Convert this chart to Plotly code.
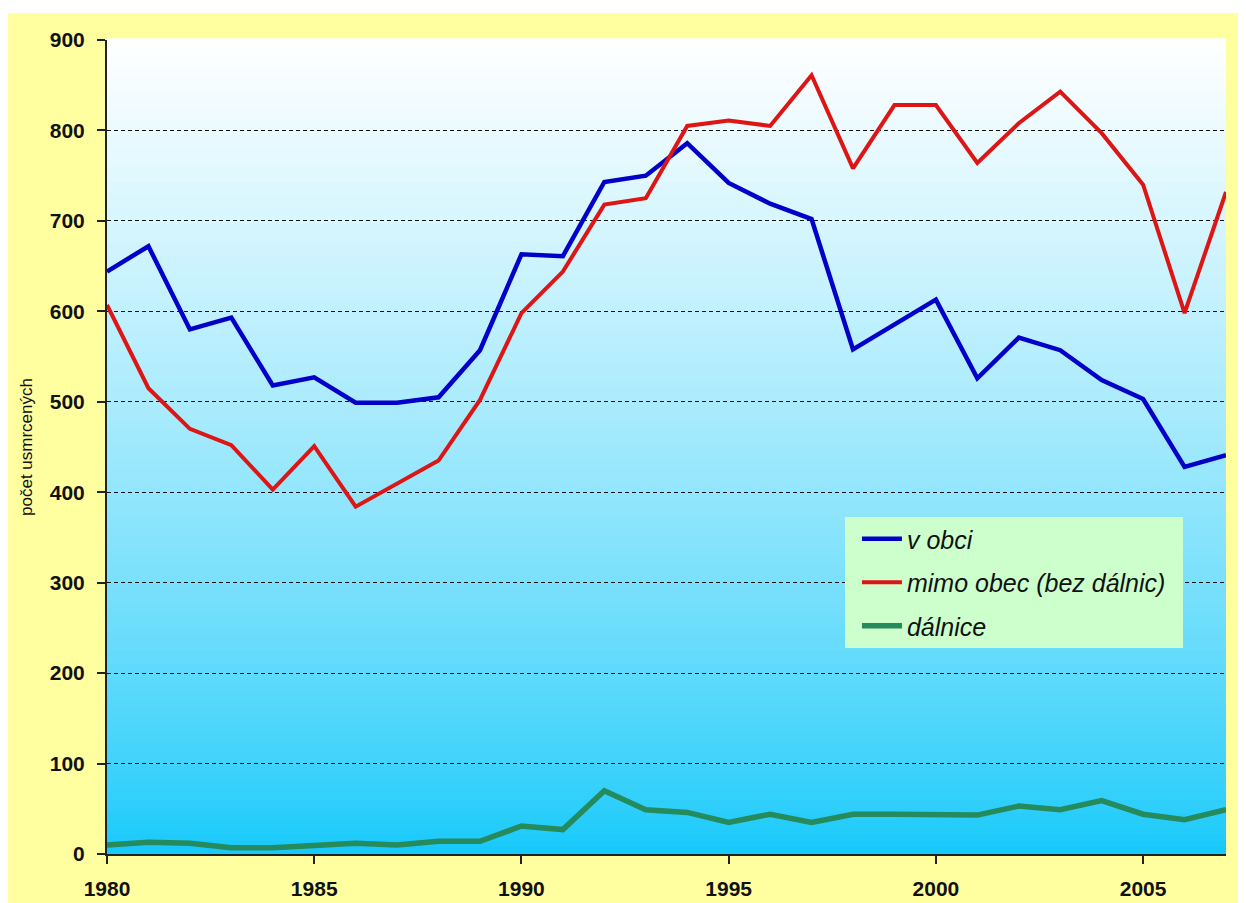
import plotly.graph_objects as go

years = list(range(1980, 2008))
v_obci = [644, 672, 580, 593, 518, 527, 499, 499, 505, 557, 663, 661, 743, 750, 786, 742,
          719, 702, 558, 585, 613, 526, 571, 557, 524, 503, 428, 441]
mimo_obec = [607, 515, 470, 452, 403, 451, 384, 410, 435, 502, 598, 644, 718, 725, 805, 811,
             805, 861, 758, 828, 828, 764, 808, 843, 797, 740, 598, 732]
dalnice = [10, 13, 12, 7, 7, 9, 12, 10, 14, 14, 31, 27, 70, 49, 46, 35,
           44, 35, 44, 44, 44, 43, 53, 49, 59, 44, 38, 49]

y_ticks = list(range(0, 1000, 100))
x_ticks = [1980, 1985, 1990, 1995, 2000, 2005]

FONT = "Liberation Sans, Arial, sans-serif"

fig = go.Figure()
fig.add_trace(go.Scatter(x=years, y=v_obci, mode="lines", name="v obci",
                         line=dict(color="#0000C8", width=4.5), legendgroup="a"))
fig.add_trace(go.Scatter(x=years, y=mimo_obec, mode="lines", name="mimo obec (bez dálnic)",
                         line=dict(color="#DD1515", width=4), legendgroup="b"))
fig.add_trace(go.Scatter(x=years, y=dalnice, mode="lines", name="dálnice",
                         line=dict(color="#258A5C", width=5.5), legendgroup="c"))

shapes = []
# yellow backdrop
shapes.append(dict(type="rect", xref="paper", yref="paper", x0=-0.1, x1=1.05, y0=-0.08, y1=1.0332,
                   fillcolor="#FFFFA0", line=dict(width=0), layer="below"))
# vertical gradient in plot area
n = 120
top = (255, 255, 255)
bot = (18, 200, 250)
for i in range(n):
    t = (i + 0.5) / n  # 0 at bottom, 1 at top
    f = t ** 0.75
    c = tuple(int(round(bot[k] + (top[k] - bot[k]) * f)) for k in range(3))
    shapes.append(dict(type="rect", xref="paper", yref="paper", x0=0, x1=1,
                       y0=i / n, y1=(i + 1) / n + 0.002,
                       fillcolor="rgb(%d,%d,%d)" % c, line=dict(width=0), layer="below"))
# legend box
shapes.append(dict(type="rect", xref="paper", yref="paper", x0=0.6595, x1=0.9616, y0=0.2531, y1=0.414,
                   fillcolor="#CCFFCC", line=dict(width=0), layer="above"))

fig.update_layout(
    width=1238, height=895,
    margin=dict(l=99, r=20, t=32, b=49, pad=0, autoexpand=False),
    paper_bgcolor="white",
    plot_bgcolor="rgba(0,0,0,0)",
    shapes=shapes,
    font=dict(family=FONT, color="#111111"),
    showlegend=True,
    legend=dict(x=0.6702, y=0.4152, xanchor="left", yanchor="top",
                bgcolor="rgba(0,0,0,0)", borderwidth=0,
                font=dict(size=25, style="italic", color="#111111"),
                traceorder="grouped", tracegroupgap=8,
                itemwidth=40),
    xaxis=dict(range=[1980, 2007], tickvals=x_ticks, ticktext=[str(v) for v in x_ticks],
               showgrid=False, zeroline=False, showline=True, linecolor="#222222", linewidth=2,
               ticks="outside", ticklen=8, tickwidth=1.5, tickcolor="#222222",
               tickfont=dict(size=21, family=FONT, weight="bold"),
               ticklabelstandoff=7, automargin=False),
    yaxis=dict(range=[0, 900], tickvals=y_ticks, ticktext=[str(v) for v in y_ticks],
               showgrid=True, gridcolor="#111111", gridwidth=1, griddash="4px,3px",
               zeroline=False, showline=True, linecolor="#222222", linewidth=2,
               ticks="outside", ticklen=8, tickwidth=1.5, tickcolor="#222222",
               tickfont=dict(size=21, family=FONT, weight="bold"),
               ticklabelstandoff=8, automargin=False,
               title=dict(text="počet usmrcených", font=dict(size=17), standoff=13)),
)

fig.write_html("out.html")
